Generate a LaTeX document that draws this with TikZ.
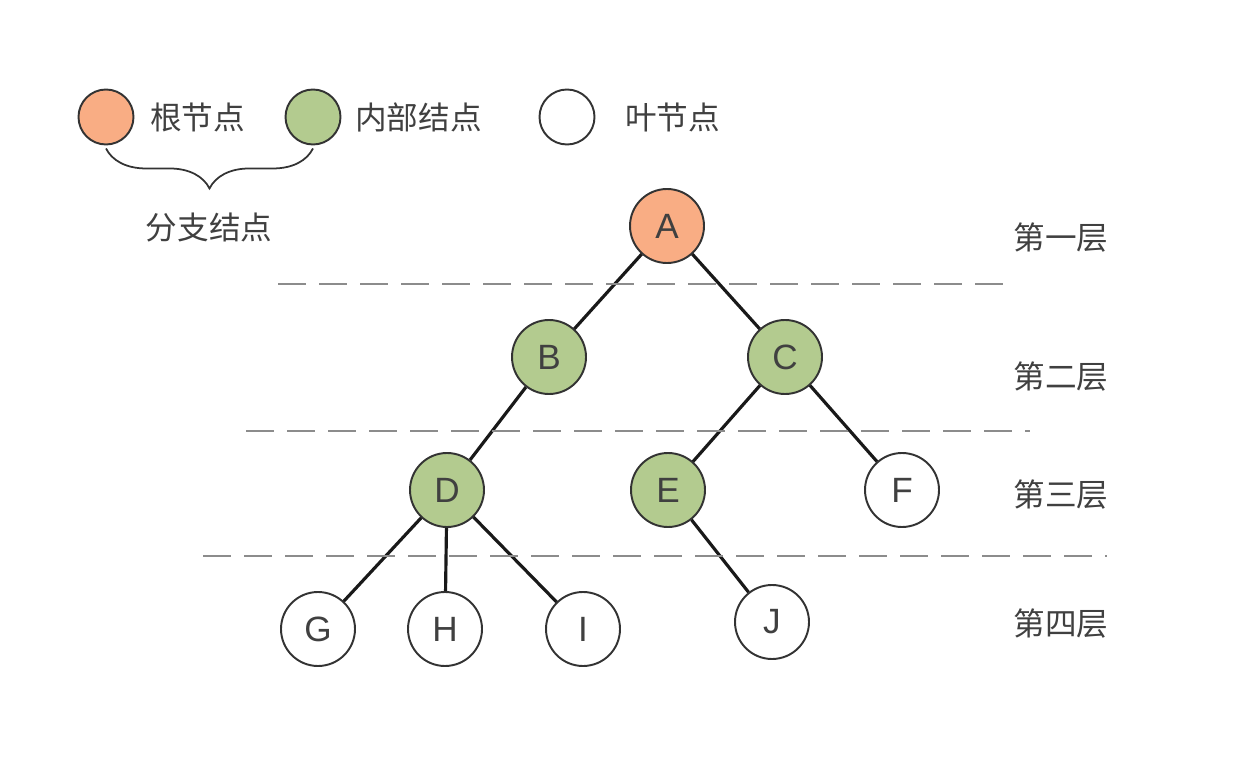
\documentclass[tikz,border=0pt]{standalone}
\usepackage{fontspec}
\setmainfont{Liberation Sans}
\newfontfamily\cjk{Noto Sans CJK SC}
\usetikzlibrary{positioning}
\usetikzlibrary{decorations.pathreplacing}
\definecolor{rootfill}{HTML}{F9AD84}
\definecolor{innerfill}{HTML}{B3CB8F}
\definecolor{rim}{HTML}{333333}
\definecolor{txt}{HTML}{404040}
\definecolor{sep}{HTML}{8C8C8C}

\begin{document}
\begin{tikzpicture}[on grid,
  tnode/.style={circle,draw=rim,line width=1.1pt,minimum size=1.48cm,inner sep=0pt,text=txt,font=\fontsize{20}{22}\selectfont},
  rootnode/.style={tnode,fill=rootfill},
  innernode/.style={tnode,fill=innerfill},
  leafnode/.style={tnode,fill=white},
  keynode/.style={circle,draw=rim,line width=1.1pt,minimum size=1.1cm,inner sep=0pt},
  cjktext/.style={text=txt,font=\cjk\fontsize{18}{20}\selectfont,inner sep=0pt},
  edge/.style={line width=1.8pt,black!90},
  level/.style={sep,line width=1.4pt,dash pattern=on 0.56cm off 0.26cm}]
\useasboundingbox (0,0) rectangle (25,15.52);
\node[keynode,fill=rootfill] (rootkey) at (2.12,13.18) {};
\node[keynode,fill=innerfill] (innerkey) at (6.26,13.18) {};
\node[keynode,fill=white] (leafkey) at (11.34,13.18) {};
\node[cjktext,anchor=west] (rootlbl) at (3.0,13.18) {根节点};
\node[cjktext,anchor=west] (innerlbl) at (7.1,13.18) {内部结点};
\node[cjktext,anchor=west] (leaflbl) at (12.5,13.18) {叶节点};
\draw[rim,line width=1pt,decorate,decoration={brace,mirror,amplitude=0.8cm}]
  ([yshift=-0.06cm]rootkey.south) -- ([yshift=-0.06cm]innerkey.south);
\node[cjktext] (branchlbl) at (4.18,10.96) {分支结点};

\node[rootnode] (A) at (13.34,11.0) {A};
\node[innernode,below left=2.62cm and 2.36cm of A] (B) {B};
\node[innernode,below right=2.62cm and 2.36cm of A] (C) {C};
\node[innernode,below left=2.66cm and 2.04cm of B] (D) {D};
\node[innernode,below left=2.66cm and 2.34cm of C] (E) {E};
\node[leafnode,below right=2.66cm and 2.34cm of C] (F) {F};
\node[leafnode,below left=2.78cm and 2.58cm of D] (G) {G};
\node[leafnode,below left=2.78cm and 0.04cm of D] (H) {H};
\node[leafnode,below right=2.78cm and 2.72cm of D] (I) {I};
\node[leafnode,below right=2.64cm and 2.08cm of E] (J) {J};

\draw[edge] (A) -- (B);
\draw[edge] (A) -- (C);
\draw[edge] (B) -- (D);
\draw[edge] (C) -- (E);
\draw[edge] (C) -- (F);
\draw[edge] (D) -- (G);
\draw[edge] (D) -- (H);
\draw[edge] (D) -- (I);
\draw[edge] (E) -- (J);

\coordinate (l1a) at (5.56,9.84);
\coordinate (l1b) at (20.24,9.84);
\coordinate (l2a) at (4.92,6.90);
\coordinate (l2b) at (20.60,6.90);
\coordinate (l3a) at (4.06,4.40);
\coordinate (l3b) at (22.14,4.40);
\draw[level] (l1a) -- (l1b);
\draw[level] (l2a) -- (l2b);
\draw[level] (l3a) -- (l3b);

\node[cjktext] (lv1) at (21.22,10.76) {第一层};
\node[cjktext] (lv2) at (21.22,7.98) {第二层};
\node[cjktext] (lv3) at (21.22,5.62) {第三层};
\node[cjktext] (lv4) at (21.22,3.04) {第四层};
\end{tikzpicture}
\end{document}
